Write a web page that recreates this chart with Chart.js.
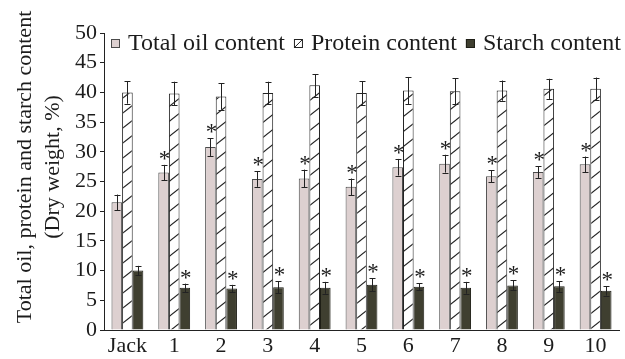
<!DOCTYPE html>
<html>
<head>
<meta charset="utf-8">
<script src="https://cdn.jsdelivr.net/npm/chart.js@4/dist/chart.umd.min.js"></script>
<style>
  html, body { margin: 0; padding: 0; background: #ffffff; }
  #wrap { width: 625px; height: 359px; position: relative; }
</style>
</head>
<body>
<div id="wrap"><canvas id="chart"></canvas></div>
<script>
// Soybean lines: oil, protein and starch content (% of dry weight), mean and error
const categories = ['Jack', '1', '2', '3', '4', '5', '6', '7', '8', '9', '10'];

const oilContent     = [21.5, 26.5, 30.8, 25.4, 25.5, 24.1, 27.4, 28.0, 25.9, 26.6, 27.9];
const oilError       = [1.3, 1.3, 1.5, 1.3, 1.5, 1.4, 1.4, 1.5, 1.0, 1.0, 1.3];
const proteinContent = [40.0, 39.8, 39.3, 39.9, 41.2, 39.9, 40.3, 40.2, 40.3, 40.6, 40.6];
const proteinError   = [1.9, 2.0, 2.2, 1.9, 1.9, 2.0, 2.3, 2.2, 1.7, 1.7, 1.9];
const starchContent  = [10.0, 7.1, 7.0, 7.2, 7.1, 7.6, 7.3, 7.1, 7.5, 7.35, 6.6];
const starchError    = [0.8, 0.7, 0.6, 1.0, 1.0, 1.1, 0.6, 1.0, 0.85, 0.9, 0.8];

// significance markers (*) versus Jack
const oilSignificant     = [false, true, true, true, true, true, true, true, true, true, true];
const proteinSignificant = [false, false, false, false, false, false, false, false, false, false, false];
const starchSignificant  = [false, true, true, true, true, true, true, true, true, true, true];

const seriesLabels = ['Total oil content', 'Protein content', 'Starch content'];
const yTitleLines = ['Total oil, protein and starch content', '(Dry weight, %)'];

const SERIF = "'Liberation Serif', 'DejaVu Serif', serif";
const INK = '#1c1c1c';

// diagonal hatch used for the protein bars
function makeHatch() {
  const w = 19, h = 15;
  const c = document.createElement('canvas');
  c.width = w; c.height = h;
  const g = c.getContext('2d');
  g.fillStyle = '#ffffff';
  g.fillRect(0, 0, w, h);
  g.strokeStyle = '#222222';
  g.lineWidth = 1.1;
  for (const dx of [-w, 0, w]) {
    for (const dy of [-h, 0, h]) {
      g.beginPath();
      g.moveTo(dx, h + dy);
      g.lineTo(w + dx, dy);
      g.stroke();
    }
  }
  return g.createPattern(c, 'repeat');
}

// error bars and significance asterisks on top of each bar
const errorBarPlugin = {
  id: 'errorBars',
  afterDatasetsDraw(chart) {
    const ctx = chart.ctx;
    const y = chart.scales.y;
    ctx.save();
    ctx.strokeStyle = '#222222';
    ctx.lineWidth = 1;
    chart.data.datasets.forEach((ds, di) => {
      const meta = chart.getDatasetMeta(di);
      meta.data.forEach((bar, i) => {
        const v = ds.data[i];
        const e = ds.errors[i];
        const x = Math.round(bar.x) + 0.5;
        const yt = y.getPixelForValue(v + e);
        const yb = y.getPixelForValue(v - e);
        ctx.beginPath();
        ctx.moveTo(x, yt); ctx.lineTo(x, yb);
        ctx.moveTo(x - 3, Math.round(yt) + 0.5); ctx.lineTo(x + 3, Math.round(yt) + 0.5);
        ctx.moveTo(x - 3, Math.round(yb) + 0.5); ctx.lineTo(x + 3, Math.round(yb) + 0.5);
        ctx.stroke();
        if (ds.significant[i]) {
          ctx.fillStyle = INK;
          ctx.font = '23px ' + SERIF;
          ctx.textAlign = 'center';
          ctx.textBaseline = 'alphabetic';
          ctx.fillText('*', bar.x + 1, yt + 1);
        }
      });
    });
    ctx.restore();
  }
};

// legend row inside the top of the plot area, and the two-line y title
const annotationPlugin = {
  id: 'legendAndTitle',
  afterDraw(chart) {
    const ctx = chart.ctx;
    const area = chart.chartArea;
    ctx.save();
    ctx.font = '24px ' + SERIF;
    ctx.textBaseline = 'middle';
    ctx.textAlign = 'left';
    let x = area.left + 7;
    const cy = area.top + 10;
    chart.data.datasets.forEach((ds) => {
      const patterned = ds.backgroundColor instanceof CanvasPattern;
      ctx.fillStyle = patterned ? '#ffffff' : ds.backgroundColor;
      ctx.fillRect(x, cy - 4, 9, 9);
      ctx.strokeStyle = ds.borderColor;
      ctx.lineWidth = 1;
      if (patterned) {
        ctx.beginPath();
        ctx.moveTo(x + 1, cy + 4);
        ctx.lineTo(x + 8, cy - 3);
        ctx.stroke();
      }
      ctx.strokeRect(x + 0.5, cy - 3.5, 8, 8);
      ctx.fillStyle = INK;
      ctx.fillText(ds.label, x + 17, cy + 1);
      x += 17 + ctx.measureText(ds.label).width + 9;
    });

    ctx.font = '22px ' + SERIF;
    ctx.translate(25, 167);
    ctx.rotate(-Math.PI / 2);
    ctx.textAlign = 'center';
    ctx.fillText(yTitleLines[0], 0, 0);
    ctx.fillText(yTitleLines[1], 0, 28);
    ctx.restore();
  }
};

function build() {
  const hatch = makeHatch();
  new Chart(document.getElementById('chart'), {
    type: 'bar',
    data: {
      labels: categories,
      datasets: [
        {
          label: seriesLabels[0], data: oilContent, errors: oilError, significant: oilSignificant,
          backgroundColor: '#ddd0d0', borderColor: '#4a4a4a', borderWidth: 1
        },
        {
          label: seriesLabels[1], data: proteinContent, errors: proteinError, significant: proteinSignificant,
          backgroundColor: hatch, borderColor: '#222222', borderWidth: 1
        },
        {
          label: seriesLabels[2], data: starchContent, errors: starchError, significant: starchSignificant,
          backgroundColor: '#3f3f30', borderColor: '#1e1e16', borderWidth: 1
        }
      ]
    },
    options: {
      responsive: true,
      maintainAspectRatio: false,
      animation: false,
      devicePixelRatio: 1,
      layout: { padding: { top: 33, right: 6, bottom: 0, left: 0 } },
      datasets: { bar: { categoryPercentage: 0.68, barPercentage: 1.0 } },
      plugins: {
        legend: { display: false },
        tooltip: { enabled: false },
        title: { display: false }
      },
      scales: {
        x: {
          grid: { display: false, drawTicks: false },
          border: { display: true, color: '#222222', width: 1 },
          ticks: { color: INK, font: { family: SERIF, size: 22 }, padding: 3, maxRotation: 0, autoSkip: false },
          afterFit(scale) { scale.height = 29; }
        },
        y: {
          min: 0, max: 50,
          ticks: { stepSize: 5, color: INK, font: { family: SERIF, size: 22 }, padding: 3 },
          grid: { drawOnChartArea: false, drawTicks: true, tickLength: 4, color: '#222222' },
          border: { display: true, color: '#222222', width: 1 },
          afterFit(scale) { scale.width = 104; }
        }
      }
    },
    plugins: [errorBarPlugin, annotationPlugin]
  });
}

document.fonts.load('22px "Liberation Serif"').then(build, build);
</script>
</body>
</html>
